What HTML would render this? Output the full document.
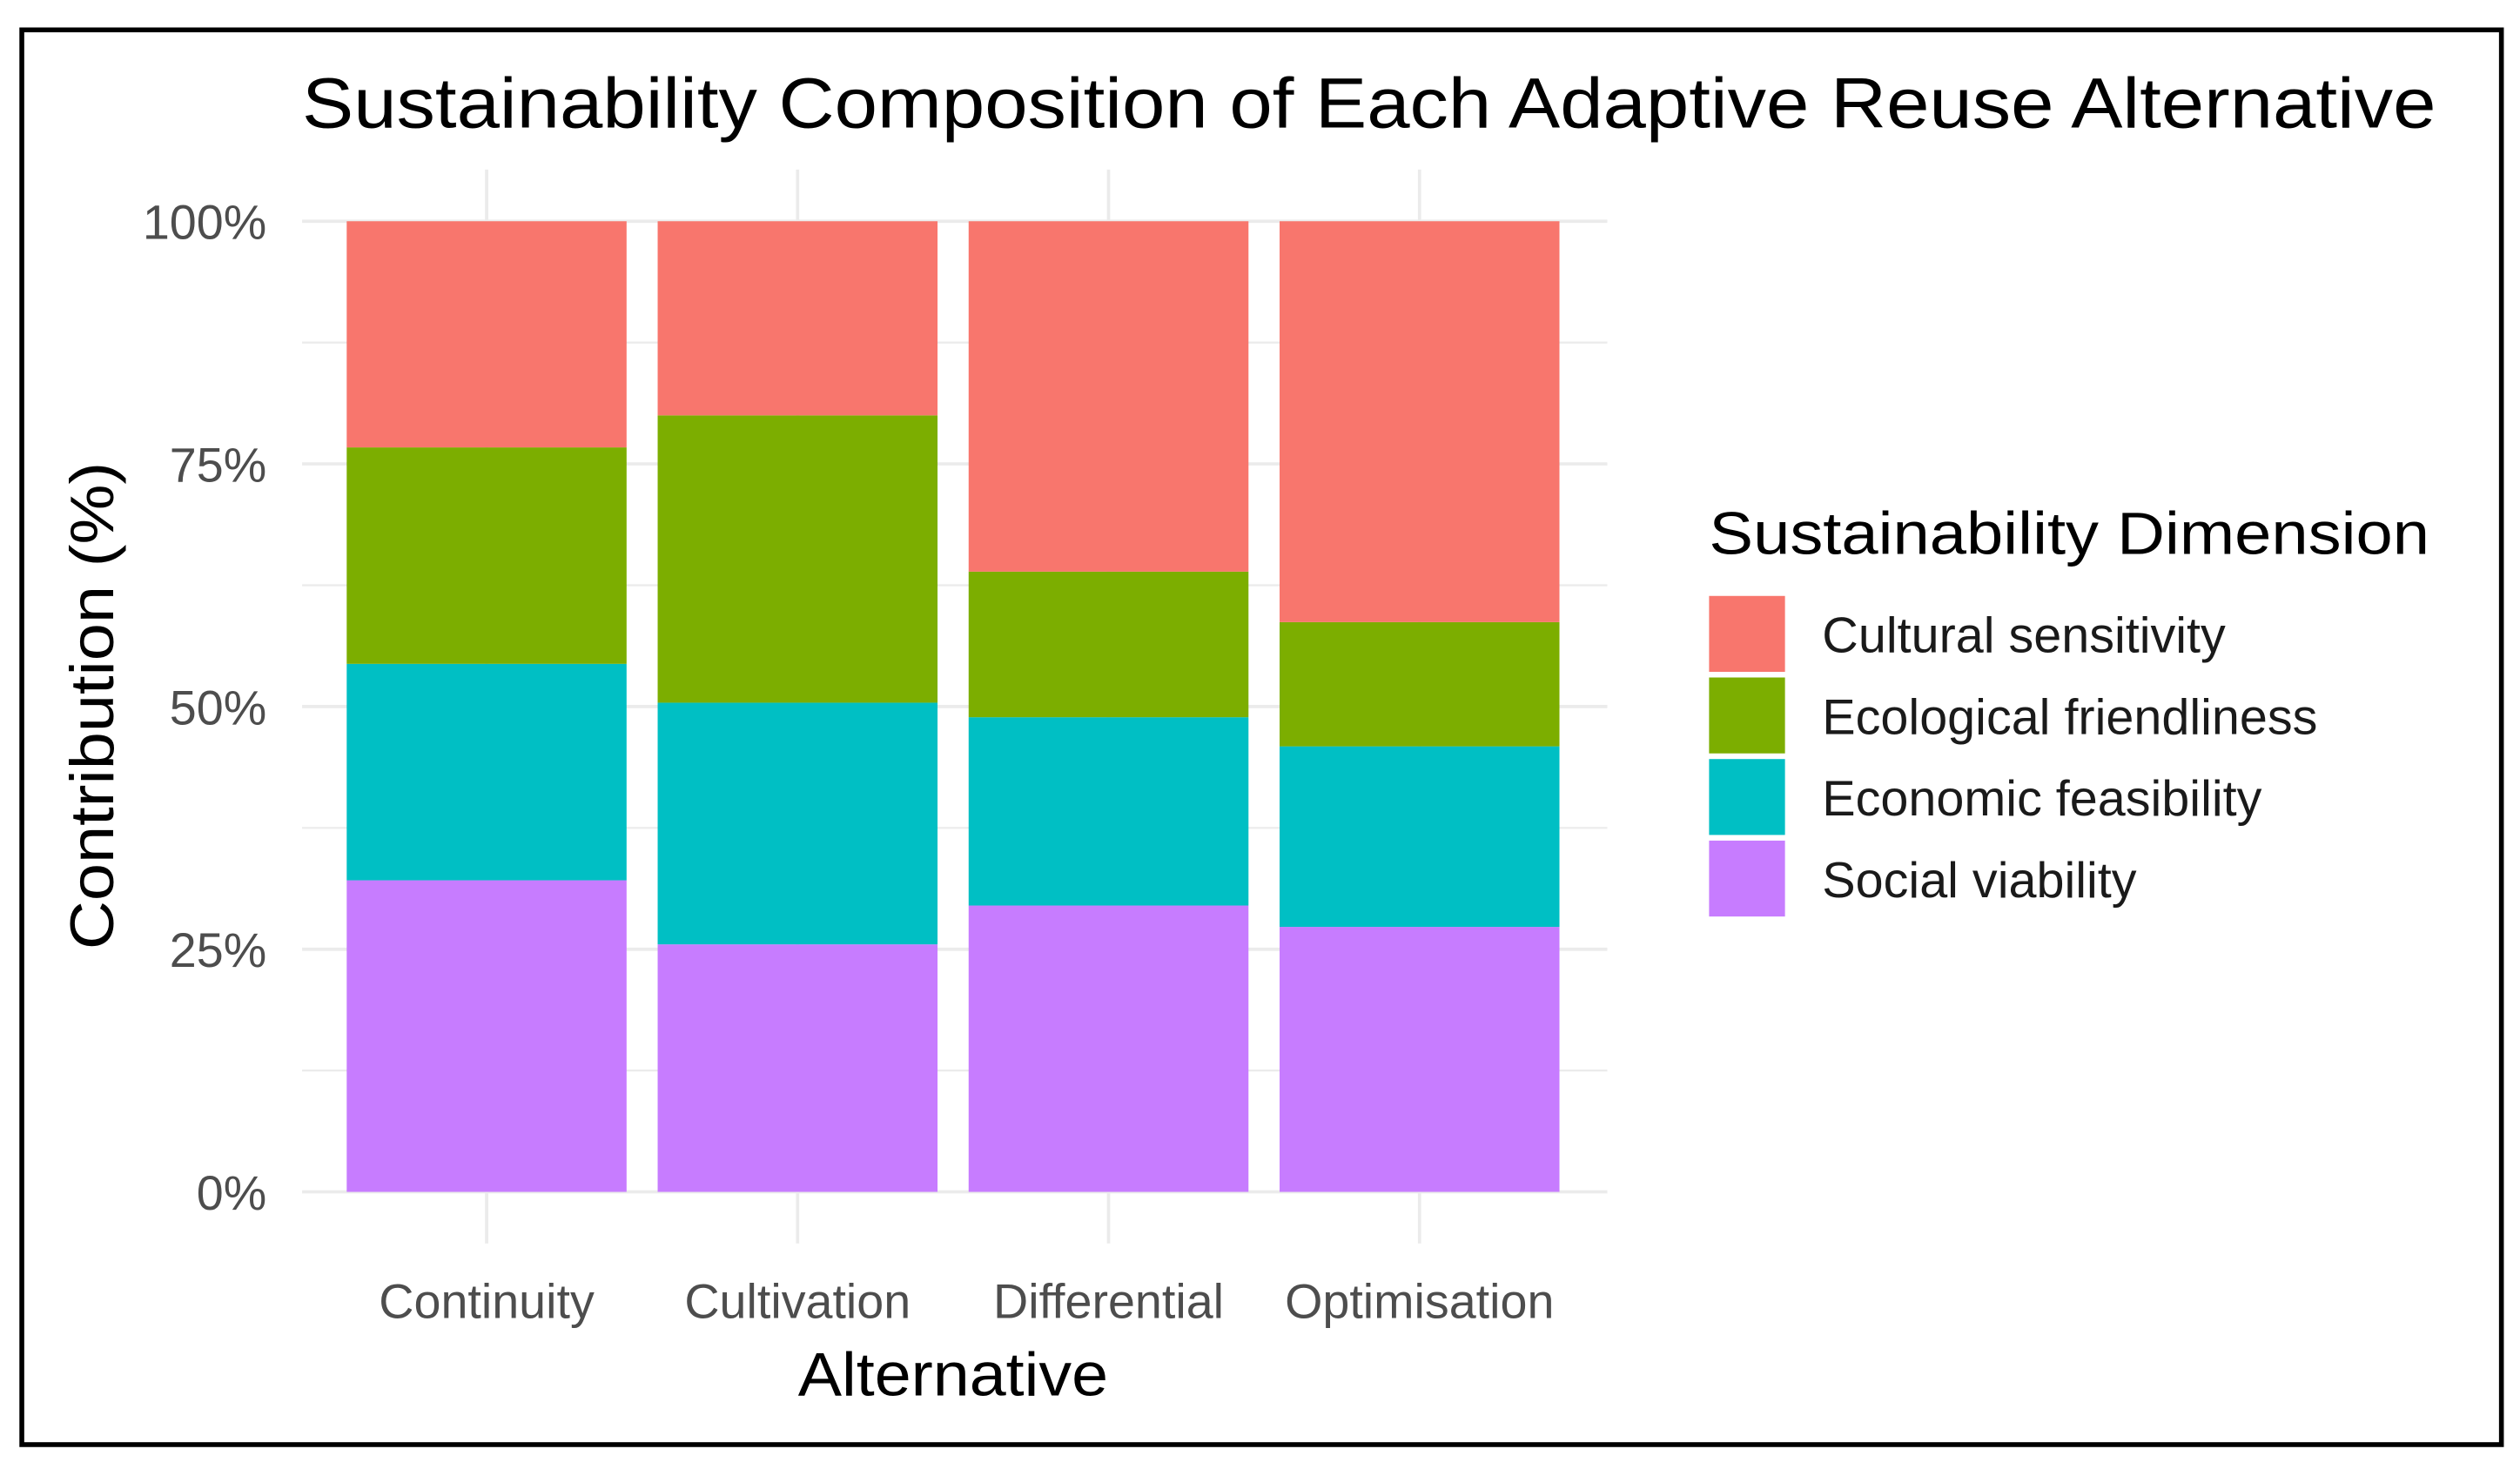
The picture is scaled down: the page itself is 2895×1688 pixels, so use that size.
<!DOCTYPE html>
<html><head><meta charset="utf-8">
<style>
html,body{margin:0;padding:0;background:#fff;}
svg{display:block;font-family:"Liberation Sans",Arial,sans-serif;}
</style></head>
<body>
<svg id="chart" width="2895" height="1688" viewBox="0 0 1560 909.6" xmlns="http://www.w3.org/2000/svg">
<rect x="0" y="0" width="1560" height="909.6" fill="#fff"/>
<rect x="13.5" y="18.5" width="1535" height="876" fill="none" stroke="#000" stroke-width="3"/>
<text x="187" y="79" font-size="44" fill="#000" textLength="1321" lengthAdjust="spacingAndGlyphs">Sustainability Composition of Each Adaptive Reuse Alternative</text>
<g id="grid"></g>
<g id="bars"></g>
<g id="axes"></g>
<text transform="translate(70,437) rotate(-90)" text-anchor="middle" font-size="38" fill="#000" textLength="302" lengthAdjust="spacingAndGlyphs">Contribution (%)</text>
<text x="590" y="864" text-anchor="middle" font-size="38" fill="#000" textLength="192" lengthAdjust="spacingAndGlyphs">Alternative</text>
<g id="legend">
<text x="1058" y="343" font-size="37" fill="#000" textLength="446" lengthAdjust="spacingAndGlyphs">Sustainability Dimension</text>
</g>
</svg>
<script>
const categories = ["Continuity","Cultivation","Differential","Optimisation"];
const seriesNames = ["Social viability","Economic feasibility","Ecological friendliness","Cultural sensitivity"];
const social = [32.1, 25.5, 29.5, 27.3];
const economic = [22.3, 24.9, 19.4, 18.6];
const ecological = [22.3, 29.6, 15.0, 12.8];
const cultural = [23.3, 20.0, 36.1, 41.3];
const yTicks = [0, 25, 50, 75, 100];
const yTickLabels = ["0%","25%","50%","75%","100%"];
const legendOrder = ["Cultural sensitivity","Ecological friendliness","Economic feasibility","Social viability"];

const colors = {"Cultural sensitivity":"#F8766D","Ecological friendliness":"#7CAE00","Economic feasibility":"#00BFC4","Social viability":"#C77CFF"};
const NS = "http://www.w3.org/2000/svg";
const plotLeft = 187, plotRight = 995, plotTop = 105, plotBottom = 770;
const y0 = 738, y100 = 137;
const bandStart = 205, bandStep = 192.5;
function yScale(v){ return y0 - (v/100)*(y0-y100); }
function xCenter(i){ return bandStart + bandStep*(i+0.5); }
const barW = bandStep*0.9;
function mk(tag, attrs, parent){ const e=document.createElementNS(NS,tag); for(const k in attrs) e.setAttribute(k,attrs[k]); parent.appendChild(e); return e; }

const grid = document.getElementById('grid');
for (let t=0; t<=100; t+=12.5){
  const l = mk('line',{x1:plotLeft,x2:plotRight,y1:yScale(t),y2:yScale(t),stroke:"#ebebeb","stroke-width":(t%25===0)?2:1.2},grid);
  
  
}
categories.forEach((c,i)=>{
  const l = mk('line',{x1:xCenter(i),x2:xCenter(i),y1:plotTop,y2:plotBottom,stroke:"#ebebeb","stroke-width":2},grid);
  
  
});

const bars = document.getElementById('bars');
const stackData = [["Social viability",social],["Economic feasibility",economic],["Ecological friendliness",ecological],["Cultural sensitivity",cultural]];
categories.forEach((c,i)=>{
  let total = 0;
  stackData.forEach(s=>total+=s[1][i]);
  let cum = 0;
  stackData.forEach(([name,vals])=>{
    const v = vals[i]/total*100;
    const top = yScale(cum+v), bot = yScale(cum);
    const r = mk('rect',{x:xCenter(i)-barW/2,y:top,width:barW,height:bot-top,fill:colors[name]},bars);
    
    
    cum += v;
  });
});

const axes = document.getElementById('axes');
yTicks.forEach((t,k)=>{
  const tx = mk('text',{x:165,y:yScale(t)+11,"text-anchor":"end","font-size":30,fill:"#4d4d4d"},axes);
  tx.textContent = yTickLabels[k];
  
  
});
categories.forEach((c,i)=>{
  const tx = mk('text',{x:xCenter(i),y:816,"text-anchor":"middle","font-size":30,fill:"#4d4d4d"},axes);
  tx.textContent = c;
  
  
});

const legend = document.getElementById('legend');
legendOrder.forEach((n,k)=>{
  const y = 369 + k*50.5;
  const r = mk('rect',{x:1058,y:y,width:47,height:47,fill:colors[n]},legend);
  
  
  const tx = mk('text',{x:1128,y:y+35,"font-size":31,fill:"#1a1a1a"},legend);
  tx.textContent = n;
  
  
});
</script>
</body></html>
